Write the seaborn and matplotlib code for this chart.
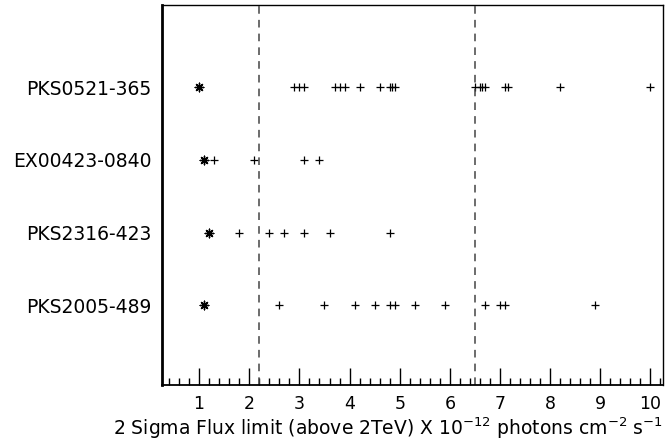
import matplotlib
matplotlib.use("Agg")
import matplotlib.pyplot as plt
from matplotlib.ticker import MultipleLocator
import seaborn as sns
import pandas as pd

sources = ["PKS0521-365", "EX00423-0840", "PKS2316-423", "PKS2005-489"]

pks0521_cross = [2.9, 3.0, 3.1, 3.7, 3.8, 3.9, 4.2, 4.6, 4.8, 4.85, 4.9,
                 6.5, 6.6, 6.65, 6.7, 7.1, 7.15, 8.2, 10.0]
ex0423_cross = [1.3, 2.1, 3.1, 3.4]
pks2316_cross = [1.8, 2.4, 2.7, 3.1, 3.6, 4.8]
pks2005_cross = [2.6, 3.5, 4.1, 4.5, 4.8, 4.9, 5.3, 5.9, 6.7, 7.0, 7.1, 8.9]

star_values = [1.0, 1.1, 1.2, 1.1]

limit_lines = [2.2, 6.5]

xlabel = r"2 Sigma Flux limit (above 2TeV) X 10$^{-12}$ photons cm$^{-2}$ s$^{-1}$"

sns.set_theme(style="white")
plt.rcParams["font.family"] = ["DejaVu Sans"]
plt.rcParams["mathtext.fontset"] = "dejavusans"
plt.rcParams["text.color"] = "black"
plt.rcParams["xtick.color"] = "black"
plt.rcParams["ytick.color"] = "black"
plt.rcParams["axes.labelcolor"] = "black"

ypos = {s: 4 - i for i, s in enumerate(sources)}
rows = []
for s, vals in zip(sources, [pks0521_cross, ex0423_cross, pks2316_cross, pks2005_cross]):
    for v in vals:
        rows.append({"source": s, "flux": v, "y": ypos[s]})
cross_df = pd.DataFrame(rows)
star_df = pd.DataFrame({"source": sources, "flux": star_values,
                        "y": [ypos[s] for s in sources]})

fig = plt.figure(figsize=(6.66, 4.45), dpi=100)
ax = fig.add_axes([0.2425, 0.135, 0.7530, 0.853])

sns.scatterplot(data=cross_df, x="flux", y="y", marker="+", color="black",
                s=40, linewidth=0.9, ax=ax, legend=False)
sns.scatterplot(data=star_df, x="flux", y="y", marker=(8, 2, 0), color="black",
                s=38, linewidth=1.0, ax=ax, legend=False)
sns.scatterplot(data=star_df, x="flux", y="y", marker="o", color="black",
                s=7, linewidth=0, ax=ax, legend=False)

for xv in limit_lines:
    ax.axvline(xv, color="#444444", linestyle=(0, (5, 4)), linewidth=1.1)

ax.set_xlim(0.25, 10.25)
ax.set_ylim(-0.10, 5.13)
ax.xaxis.set_major_locator(MultipleLocator(1))
ax.xaxis.set_minor_locator(MultipleLocator(0.2))
ax.set_xticks(range(1, 11))
ax.set_xticklabels([str(i) for i in range(1, 11)], fontsize=12.5)
ax.tick_params(axis="x", which="major", direction="in", length=12, width=1,
               color="black", labelcolor="black", bottom=True, top=False, pad=7)
ax.tick_params(axis="x", which="minor", direction="in", length=5, width=1,
               color="black", bottom=True, top=False)
ax.set_yticks([ypos[s] for s in sources])
ax.set_yticklabels(sources, fontsize=13.5)
ax.tick_params(axis="y", length=0, pad=7, left=False, labelcolor="black")

for side, sp in ax.spines.items():
    sp.set_color("black")
    sp.set_linewidth(1.0)
ax.spines["left"].set_linewidth(2.0)
ax.spines["bottom"].set_linewidth(1.3)

ax.set_xlabel(xlabel, fontsize=13.5, ha="right", color="black")
ax.xaxis.set_label_coords(1.0, -0.08)
ax.set_ylabel("")
ax.grid(False)

fig.savefig("out.png", dpi=100, facecolor="white")
